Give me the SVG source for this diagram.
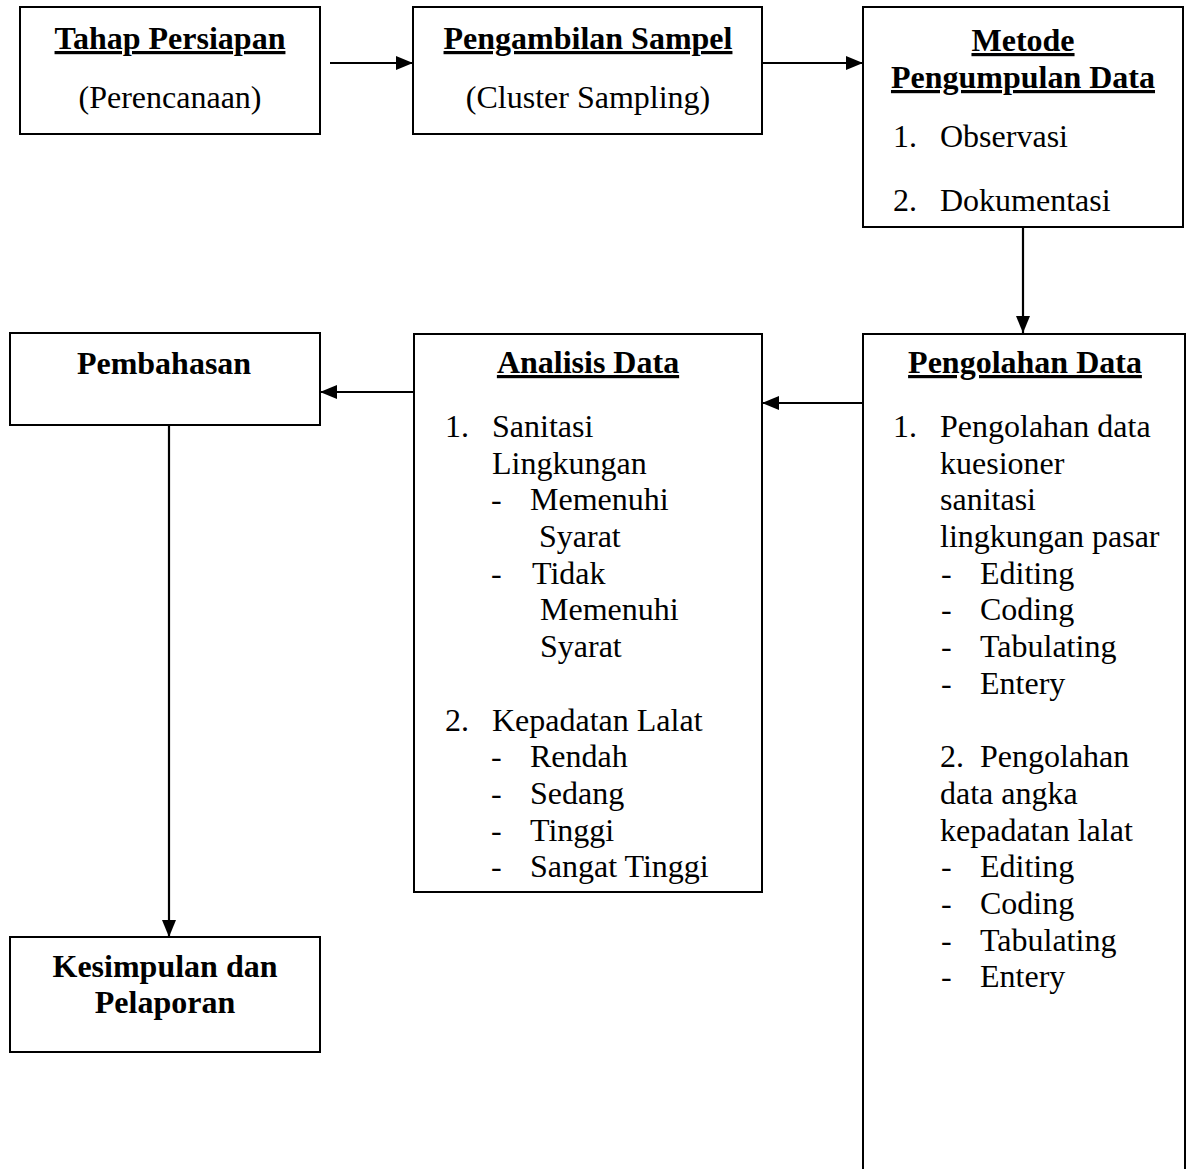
<svg xmlns="http://www.w3.org/2000/svg" width="1189" height="1169" viewBox="0 0 1189 1169">
<style>
  .box { fill: #ffffff; stroke: #000000; stroke-width: 2; }
  .t { font-family: "Liberation Serif", "Times New Roman", serif; font-size: 32px; fill: #000000; }
  .b { font-weight: bold; }
  .c { text-anchor: middle; }
  .u { text-decoration: underline; }
  .conn { stroke: #000000; stroke-width: 2.2; fill: none; marker-end: url(#arrow); }
</style>
<defs>
  <marker id="arrow" markerUnits="userSpaceOnUse" markerWidth="17" markerHeight="14" viewBox="0 0 17 14" refX="17" refY="7" orient="auto">
    <path d="M0,0 L17,7 L0,14 Z" fill="#000000"/>
  </marker>
  <clipPath id="clipAnalisis">
    <rect x="414" y="334" width="348" height="552"/>
  </clipPath>
</defs>
<rect width="1189" height="1169" fill="#ffffff"/>

<g id="connectors">
  <line class="conn" x1="330" y1="63" x2="413" y2="63"/>
  <line class="conn" x1="762" y1="63" x2="863" y2="63"/>
  <line class="conn" x1="1023" y1="227" x2="1023" y2="333"/>
  <line class="conn" x1="863" y1="403" x2="762" y2="403"/>
  <line class="conn" x1="413" y1="392" x2="320" y2="392"/>
  <line class="conn" x1="169" y1="425" x2="169" y2="937"/>
</g>

<g id="tahap-persiapan">
  <rect class="box" x="20" y="7" width="300" height="127"/>
  <text class="t b c u" x="170" y="49">Tahap Persiapan</text>
  <text class="t c" x="170" y="108">(Perencanaan)</text>
</g>

<g id="pengambilan-sampel">
  <rect class="box" x="413" y="7" width="349" height="127"/>
  <text class="t b c u" x="588" y="49">Pengambilan Sampel</text>
  <text class="t c" x="588" y="108">(Cluster Sampling)</text>
</g>

<g id="metode-pengumpulan-data">
  <rect class="box" x="863" y="7" width="320" height="220"/>
  <text class="t b c u" x="1023" y="51">Metode</text>
  <text class="t b c u" x="1023" y="88">Pengumpulan Data</text>
  <text class="t" x="893" y="147">1.</text>
  <text class="t" x="940" y="147">Observasi</text>
  <text class="t" x="893" y="211">2.</text>
  <text class="t" x="940" y="211">Dokumentasi</text>
</g>

<g id="pengolahan-data">
  <rect class="box" x="863" y="334" width="322" height="850"/>
  <text class="t b c u" x="1025" y="373">Pengolahan Data</text>
  <text class="t" x="893" y="437">1.</text>
  <text class="t" x="940" y="437">Pengolahan data</text>
  <text class="t" x="940" y="474">kuesioner</text>
  <text class="t" x="940" y="510">sanitasi</text>
  <text class="t" x="940" y="547">lingkungan pasar</text>
  <text class="t" x="941" y="584">-</text>
  <text class="t" x="980" y="584">Editing</text>
  <text class="t" x="941" y="620">-</text>
  <text class="t" x="980" y="620">Coding</text>
  <text class="t" x="941" y="657">-</text>
  <text class="t" x="980" y="657">Tabulating</text>
  <text class="t" x="941" y="694">-</text>
  <text class="t" x="980" y="694">Entery</text>
  <text class="t" x="940" y="767">2.</text>
  <text class="t" x="980" y="767">Pengolahan</text>
  <text class="t" x="940" y="804">data angka</text>
  <text class="t" x="940" y="841">kepadatan lalat</text>
  <text class="t" x="941" y="877">-</text>
  <text class="t" x="980" y="877">Editing</text>
  <text class="t" x="941" y="914">-</text>
  <text class="t" x="980" y="914">Coding</text>
  <text class="t" x="941" y="951">-</text>
  <text class="t" x="980" y="951">Tabulating</text>
  <text class="t" x="941" y="987">-</text>
  <text class="t" x="980" y="987">Entery</text>
</g>

<g id="analisis-data">
  <rect class="box" x="414" y="334" width="348" height="558"/>
  <g clip-path="url(#clipAnalisis)">
    <text class="t b c u" x="588" y="373">Analisis Data</text>
    <text class="t" x="445" y="437">1.</text>
    <text class="t" x="492" y="437">Sanitasi</text>
    <text class="t" x="492" y="474">Lingkungan</text>
    <text class="t" x="491" y="510">-</text>
    <text class="t" x="530" y="510">Memenuhi</text>
    <text class="t" x="539" y="547">Syarat</text>
    <text class="t" x="491" y="584">-</text>
    <text class="t" x="532" y="584">Tidak</text>
    <text class="t" x="540" y="620">Memenuhi</text>
    <text class="t" x="540" y="657">Syarat</text>
    <text class="t" x="445" y="731">2.</text>
    <text class="t" x="492" y="731">Kepadatan Lalat</text>
    <text class="t" x="491" y="767">-</text>
    <text class="t" x="530" y="767">Rendah</text>
    <text class="t" x="491" y="804">-</text>
    <text class="t" x="530" y="804">Sedang</text>
    <text class="t" x="491" y="841">-</text>
    <text class="t" x="530" y="841">Tinggi</text>
    <text class="t" x="491" y="877">-</text>
    <text class="t" x="530" y="877">Sangat Tinggi</text>
  </g>
</g>

<g id="pembahasan">
  <rect class="box" x="10" y="333" width="310" height="92"/>
  <text class="t b c" x="164" y="374">Pembahasan</text>
</g>

<g id="kesimpulan-pelaporan">
  <rect class="box" x="10" y="937" width="310" height="115"/>
  <text class="t b c" x="165" y="977">Kesimpulan dan</text>
  <text class="t b c" x="165" y="1013">Pelaporan</text>
</g>
</svg>
